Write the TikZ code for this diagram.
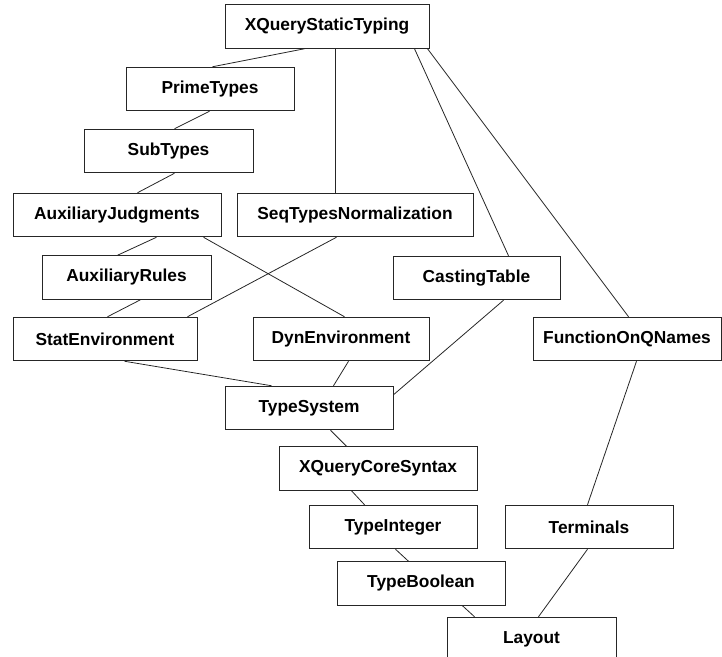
\documentclass[tikz,border=0pt]{standalone}
\usepackage{fontspec}
\setmainfont{Liberation Sans}
\usetikzlibrary{calc}
\begin{document}
\begin{tikzpicture}[x=0.75pt,y=-0.75pt,
  box/.style={draw=black!85, line width=0.75pt, fill=white, inner sep=0pt,
    minimum width=#1*0.75pt, minimum height=43.5*0.75pt,
    font=\fontsize{13pt}{15pt}\selectfont\bfseries},
  link/.style={draw=black!85, line width=0.6pt}]
\useasboundingbox (0,0) rectangle (722,657);
\node[box=204] (xst) at (327,26.5) {XQueryStaticTyping};
\node[box=168] (prime) at (210,89) {PrimeTypes};
\node[box=169] (sub) at (168.5,151) {SubTypes};
\node[box=208] (auxj) at (117,215) {AuxiliaryJudgments};
\node[box=236] (seq) at (355,215) {SeqTypesNormalization};
\node[box=169] (auxr) at (126.5,277.5) {AuxiliaryRules};
\node[box=167] (cast) at (476.5,278) {CastingTable};
\node[box=184] (stat) at (105,339) {StatEnvironment};
\node[box=176] (dyn) at (341,339) {DynEnvironment};
\node[box=188] (fqn) at (627,339) {FunctionOnQNames};
\node[box=168] (ts) at (309,408) {TypeSystem};
\node[box=198] (xqcs) at (378,468.5) {XQueryCoreSyntax};
\node[box=168] (tint) at (393,527) {TypeInteger};
\node[box=168] (term) at (589,527) {Terminals};
\node[box=168] (tbool) at (421,583.5) {TypeBoolean};
\node[box=169] (layout) at (531.5,639) {Layout};

\draw[link] ($(xst.south west)+(80,0)$) -- ($(prime.north west)+(87,0)$);
\draw[link] ($(prime.south west)+(84,0)$) -- ($(sub.north west)+(91,0)$);
\draw[link] ($(sub.south west)+(91,0)$) -- ($(auxj.north west)+(125,0)$);
\draw[link] ($(xst.south west)+(111,0)$) -- ($(seq.north west)+(99,0)$);
\draw[link] ($(xst.south west)+(190,0)$) -- ($(cast.north west)+(116,0)$);
\draw[link] ($(xst.south west)+(203,0)$) -- ($(fqn.north west)+(96,0)$);
\draw[link] ($(auxj.south west)+(144,0)$) -- ($(auxr.north west)+(76,0)$);
\draw[link] ($(auxj.south west)+(191,0)$) -- ($(dyn.north west)+(92,0)$);
\draw[link] ($(seq.south west)+(100,0)$) -- ($(stat.north west)+(175,0)$);
\draw[link] ($(auxr.south west)+(99,0)$) -- ($(stat.north west)+(95,0)$);
\draw[link] ($(stat.south west)+(112,0)$) -- ($(ts.north west)+(47,0)$);
\draw[link] ($(dyn.south west)+(96,0)$) -- ($(ts.north west)+(109,0)$);
\draw[link] ($(cast.south west)+(111,0)$) -- ($(ts.north east)+(0,9)$);
\draw[link] ($(ts.south west)+(106,0)$) -- ($(xqcs.north west)+(68,0)$);
\draw[link] ($(xqcs.south west)+(73,0)$) -- ($(tint.north west)+(56,0)$);
\draw[link] ($(tint.south west)+(87,0)$) -- ($(tbool.north west)+(72,0)$);
\draw[link] ($(tbool.south west)+(126,0)$) -- ($(layout.north west)+(28,0)$);
\draw[link] ($(fqn.south west)+(104,0)$) -- ($(term.north west)+(83,0)$);
\draw[link] ($(term.south west)+(83,0)$) -- ($(layout.north west)+(92,0)$);
\end{tikzpicture}
\end{document}
